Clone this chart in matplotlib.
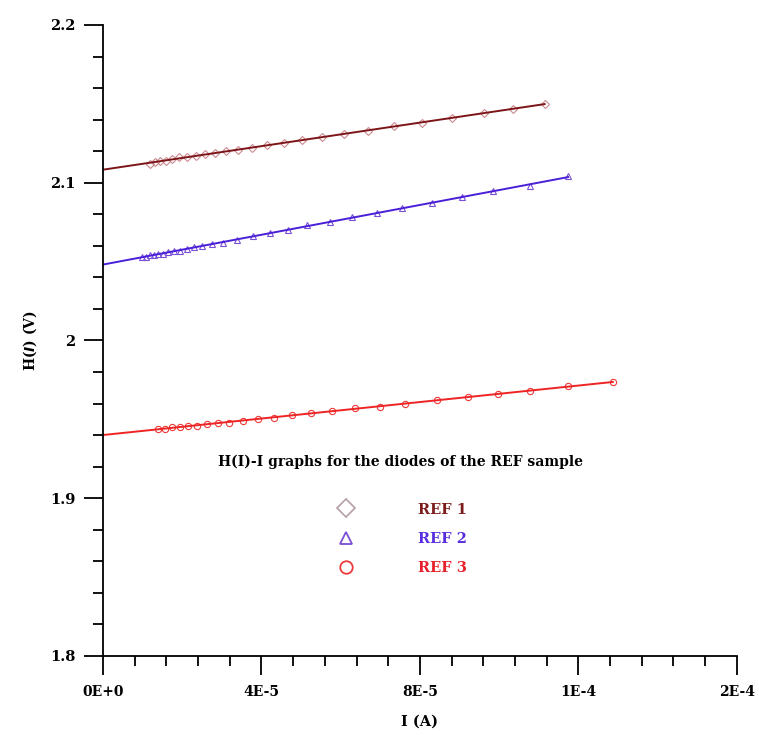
import numpy as np
import matplotlib
matplotlib.use("Agg")
import matplotlib.pyplot as plt
from matplotlib.lines import Line2D
from matplotlib.ticker import MultipleLocator

# current in units of 1E-5 A, H(I) in V
ref1_i = [1.19, 1.31, 1.44, 1.59, 1.74, 1.92, 2.12, 2.35, 2.57, 2.83, 3.10, 3.41, 3.76,
          4.14, 4.57, 5.02, 5.53, 6.08, 6.69, 7.34, 8.05, 8.81, 9.62, 10.35, 11.15]
ref1_h = [2.112, 2.113, 2.114, 2.114, 2.115, 2.116, 2.116, 2.117, 2.118, 2.119, 2.120, 2.121, 2.122,
          2.124, 2.125, 2.127, 2.129, 2.131, 2.133, 2.136, 2.138, 2.141, 2.144, 2.147, 2.150]

ref2_i = [0.98, 1.09, 1.19, 1.29, 1.39, 1.51, 1.64, 1.79, 1.94, 2.12, 2.30, 2.50, 2.75, 3.03,
          3.38, 3.79, 4.21, 4.67, 5.15, 5.73, 6.28, 6.91, 7.54, 8.30, 9.06, 9.84, 10.78, 11.74]
ref2_h = [2.053, 2.053, 2.054, 2.054, 2.055, 2.055, 2.056, 2.057, 2.057, 2.058, 2.059, 2.060, 2.061, 2.062,
          2.064, 2.066, 2.068, 2.070, 2.073, 2.075, 2.078, 2.081, 2.084, 2.087, 2.091, 2.095, 2.098, 2.104]

ref3_i = [1.39, 1.56, 1.74, 1.94, 2.15, 2.37, 2.62, 2.90, 3.18, 3.53, 3.91, 4.32, 4.77, 5.25,
          5.78, 6.36, 6.99, 7.62, 8.43, 9.21, 9.97, 10.78, 11.74, 12.87]
ref3_h = [1.944, 1.944, 1.945, 1.945, 1.946, 1.946, 1.947, 1.948, 1.948, 1.949, 1.950, 1.951, 1.953, 1.954,
          1.955, 1.957, 1.958, 1.960, 1.962, 1.964, 1.966, 1.968, 1.971, 1.974]

labels = ["REF 1", "REF 2", "REF 3"]
xtick_vals = [0, 4e-5, 8e-5, 1.2e-4, 1.6e-4]
xtick_labels = ["0E+0", "4E-5", "8E-5", "1E-4", "2E-4"]
ytick_vals = [1.8, 1.9, 2.0, 2.1, 2.2]
ytick_labels = ["1.8", "1.9", "2", "2.1", "2.2"]

plt.rcParams['font.family'] = ['DejaVu Serif']
plt.rcParams['font.weight'] = 'bold'

fig = plt.figure(figsize=(7.59, 7.35), dpi=100)
ax = fig.add_axes([0.1357, 0.1075, 0.835, 0.8585])

series = [
    (ref1_i, ref1_h, "D", "#c98a90", "#7d1518", "#7d1c1c", "#b9a3ad"),
    (ref2_i, ref2_h, "^", "#7a4fd6", "#4a1fd8", "#5a2de0", "#7a4fd6"),
    (ref3_i, ref3_h, "o", "#ee3a3a", "#ee2424", "#e8202a", "#ee3a3a"),
]

handles = []
for xs, ys, mk, mcol, lcol, tcol, hcol in series:
    x = np.array(xs) * 1e-5
    y = np.array(ys)
    ax.plot(x, y, linestyle="none", marker=mk, markersize=4.5, markerfacecolor="none",
            markeredgecolor=mcol, markeredgewidth=0.8)
    p = np.polyfit(x, y, 1)
    xf = np.array([0, x.max()])
    ax.plot(xf, np.polyval(p, xf), color=lcol, linewidth=1.4)
    handles.append(Line2D([], [], linestyle="none", marker=mk, markersize=9,
                          markerfacecolor="none", markeredgecolor=hcol, markeredgewidth=1.3))

ax.set_xlim(0, 1.6e-4)
ax.set_ylim(1.8, 2.2)
ax.set_xticks(xtick_vals)
ax.set_xticklabels(xtick_labels)
ax.set_yticks(ytick_vals)
ax.set_yticklabels(ytick_labels)
ax.xaxis.set_minor_locator(MultipleLocator(8e-6))
ax.yaxis.set_minor_locator(MultipleLocator(0.02))
ax.tick_params(which="major", length=14, width=1.3, labelsize=10, direction="out")
ax.tick_params(which="minor", length=7.5, width=1.3, direction="out")
ax.tick_params(axis="y", labelsize=10.5, pad=6)
ax.tick_params(axis="x", pad=7)
ax.spines["top"].set_visible(False)
ax.spines["right"].set_visible(False)
ax.spines["left"].set_linewidth(1.3)
ax.spines["bottom"].set_linewidth(1.3)

ax.set_xlabel("I (A)", fontsize=10.5, fontweight="bold", labelpad=11)
ax.set_ylabel(r"H($\bfit{I}$) (V)", fontsize=10, fontweight="bold", labelpad=8)

ax.text(0.47, 0.307, "H(I)-I graphs for the diodes of the REF sample", transform=ax.transAxes,
        ha="center", va="center", fontsize=10, fontweight="bold")

leg = ax.legend(handles, labels, loc="upper left", bbox_to_anchor=(0.34, 0.264), frameon=False,
                handletextpad=3.95, labelspacing=1.05, prop={"weight": "bold", "size": 10.5})
for txt, s in zip(leg.get_texts(), series):
    txt.set_color(s[5])

fig.savefig("out.png", dpi=100)
